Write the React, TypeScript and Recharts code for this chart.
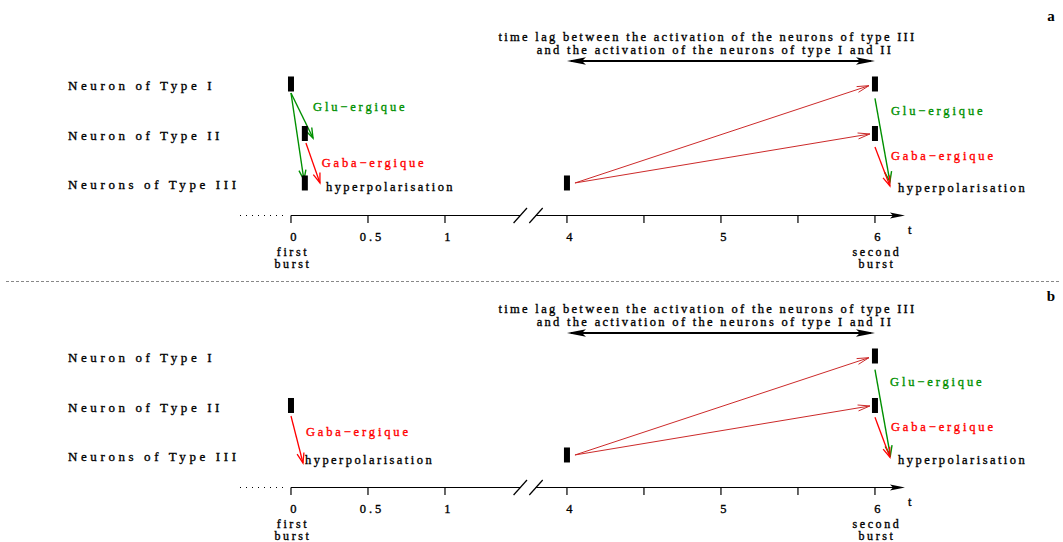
import React from 'react';
import { ComposedChart, XAxis, YAxis, Scatter, ReferenceLine } from 'recharts';

// ---------- axis definition (broken time axis) ----------
const TICK_TIMES = [0, 0.5, 1, 4, 4.5, 5, 5.5, 6];
const TICK_LABELS = ['0', '0.5', '1', '4', '', '5', '', '6'];
const TICK_SUBLABELS: string[][] = [['first', 'burst'], [], [], [], [], [], [], ['second', 'burst']];
const BREAK_SHIFT = 2.208; // time removed by the "//" break between 1 and 4
const pos = (t: number) => (t <= 1 ? t : t - BREAK_SHIFT);
const AXIS_END_T = 6.195;
const BREAK_POS = 1.539;
const DOTS_FROM_POS = -0.331;

// ---------- rows ----------
const ROW_LEVELS = [3, 2, 1];
const ROW_LABELS = ['Neuron of Type I', 'Neuron of Type II', 'Neurons of Type III'];

// ---------- header ----------
const HEADER_LINES = [
  'time lag between the activation of the neurons of type III',
  'and the activation of the neurons of type I and II',
];
const HEADER_AT = [{ t: 4.913, y: 3.956 }, { t: 4.961, y: 3.687 }];
const LAG_SPAN = [{ t: 4, y: 3.465 }, { t: 6, y: 3.465 }];

const GLU = 'Glu\u2212ergique';
const GABA = 'Gaba\u2212ergique';
const HYPER = 'hyperpolarisation';

type P = { t: number; y: number };

// ---------- panel a ----------
const A_BURSTS = [
  { t: 0, y: 3 }, { t: 0.09, y: 2 }, { t: 0.09, y: 1 },
  { t: 4, y: 1 }, { t: 6, y: 3 }, { t: 6, y: 2 },
];
const A_GLU_ARROWS: P[][] = [
  [{ t: 0, y: 2.818 }, { t: 0.143, y: 1.909 }],
  [{ t: 0, y: 2.818 }, { t: 0.084, y: 1.06 }],
  [{ t: 6, y: 2.711 }, { t: 6.097, y: 1.026 }],
];
const A_GABA_ARROWS: P[][] = [
  [{ t: 0.097, y: 1.808 }, { t: 0.188, y: 1.0 }],
  [{ t: 6, y: 1.727 }, { t: 6.097, y: 0.939 }],
];
const A_ACTIVATION_ARROWS: P[][] = [
  [{ t: 4.052, y: 1.0 }, { t: 5.961, y: 2.966 }],
  [{ t: 4.052, y: 1.0 }, { t: 5.967, y: 1.99 }],
];
const A_GLU_TEXT = [{ t: 0.143, y: 2.54 }, { t: 6.104, y: 2.461 }];
const A_GABA_TEXT = [{ t: 0.199, y: 1.398 }, { t: 6.104, y: 1.545 }];
const A_HYPER_TEXT = [{ t: 0.227, y: 0.913 }, { t: 6.15, y: 0.905 }];

// ---------- panel b ----------
const B_BURSTS = [{ t: 0, y: 2 }, { t: 4, y: 1 }, { t: 6, y: 3 }, { t: 6, y: 2 }];
const B_GLU_ARROWS: P[][] = [[{ t: 6, y: 2.723 }, { t: 6.1, y: 0.986 }]];
const B_GABA_ARROWS: P[][] = [
  [{ t: 0, y: 1.788 }, { t: 0.078, y: 0.838 }],
  [{ t: 6, y: 1.762 }, { t: 6.097, y: 0.954 }],
];
const B_ACTIVATION_ARROWS: P[][] = [
  [{ t: 4.052, y: 1.0 }, { t: 5.961, y: 2.966 }],
  [{ t: 4.052, y: 1.0 }, { t: 5.967, y: 1.99 }],
];
const B_GLU_TEXT = [{ t: 6.098, y: 2.469 }];
const B_GABA_TEXT = [{ t: 0.097, y: 1.465 }, { t: 6.104, y: 1.572 }];
const B_HYPER_TEXT = [{ t: 0.091, y: 0.899 }, { t: 6.15, y: 0.905 }];

// ---------- layout / style ----------
const W = 1063;
const H = 270;
const X_DOMAIN: [number, number] = [-0.396, 5.013];
const Y_DOMAIN: [number, number] = [0.343, 4.697];
const SERIF = '"Liberation Serif", "Times New Roman", Times, serif';
const GREEN = '#009000';
const RED = '#ff0000';
const DARK_RED = '#cc2a2a';
const TEXT_STROKE = 0.35;

const TICK_POS = TICK_TIMES.map(pos);

const TimeTick = (props: any) => {
  const { x, y, payload } = props;
  const i = TICK_POS.indexOf(payload.value);
  const label = i >= 0 ? TICK_LABELS[i] : '';
  const subs = i >= 0 ? TICK_SUBLABELS[i] : [];
  return (
    <g>
      <line x1={x} y1={y} x2={x} y2={y + 7.5} stroke="#000" strokeWidth={1.2} />
      {label ? (
        <text x={x + 4} y={y + 21} textAnchor="middle" dominantBaseline="central"
          fontFamily={SERIF} fontSize={12.5} letterSpacing={3} fill="#000"
          stroke="#000" strokeWidth={TEXT_STROKE}>{label}</text>
      ) : null}
      {subs.map((s, k) => (
        <text key={k} x={x + 2} y={y + 36 + k * 12} textAnchor="middle" dominantBaseline="central"
          fontFamily={SERIF} fontSize={12} letterSpacing={2.6} fill="#000"
          stroke="#000" strokeWidth={TEXT_STROKE}>{s}</text>
      ))}
    </g>
  );
};

const RowTick = (props: any) => {
  const { y, payload } = props;
  const i = ROW_LEVELS.indexOf(payload.value);
  return (
    <text x={68} y={y + 2} dominantBaseline="central" textAnchor="start"
      fontFamily={SERIF} fontSize={13} letterSpacing={3.6} fill="#000"
      stroke="#000" strokeWidth={TEXT_STROKE}>
      {i >= 0 ? ROW_LABELS[i] : ''}
    </text>
  );
};

const openArrow = (len: number, half: number) => (p: any) => {
  const { x1, y1, x2, y2, stroke, strokeWidth } = p;
  const a = Math.atan2(y2 - y1, x2 - x1);
  const bx = x2 - len * Math.cos(a);
  const by = y2 - len * Math.sin(a);
  const nx = -Math.sin(a) * half;
  const ny = Math.cos(a) * half;
  return (
    <g>
      <line x1={x1} y1={y1} x2={x2} y2={y2} stroke={stroke} strokeWidth={strokeWidth} />
      <polyline points={`${bx + nx},${by + ny} ${x2},${y2} ${bx - nx},${by - ny}`}
        fill="none" stroke={stroke} strokeWidth={strokeWidth} />
    </g>
  );
};

const doubleArrow = (len: number, half: number) => (p: any) => {
  const { x1, y1, x2, y2, stroke, strokeWidth } = p;
  return (
    <g>
      <line x1={x1 + 4} y1={y1} x2={x2 - 4} y2={y2} stroke={stroke} strokeWidth={strokeWidth} />
      <polygon points={`${x1},${y1} ${x1 + len},${y1 - half} ${x1 + len - 4},${y1} ${x1 + len},${y1 + half}`} fill={stroke} />
      <polygon points={`${x2},${y2} ${x2 - len},${y2 - half} ${x2 - len + 4},${y2} ${x2 - len},${y2 + half}`} fill={stroke} />
    </g>
  );
};

const axisArrow = (p: any) => {
  const { x1, y1, x2, y2, stroke, strokeWidth } = p;
  return (
    <g>
      <line x1={x1} y1={y1} x2={x2 - 4} y2={y2} stroke={stroke} strokeWidth={strokeWidth} />
      <polygon points={`${x2},${y2} ${x2 - 15},${y2 - 3} ${x2 - 12},${y2} ${x2 - 15},${y2 + 3}`} fill={stroke} />
      <text x={x2 + 3} y={y2 + 14} dominantBaseline="central" fontFamily={SERIF} fontSize={12.5} fill="#000"
        stroke="#000" strokeWidth={TEXT_STROKE}>t</text>
    </g>
  );
};

const BurstShape = (p: any) => (
  <rect x={p.cx - 3} y={p.cy - 7.5} width={6} height={15} fill="#000" />
);

const textShape = (color: string, anchor: 'start' | 'middle', spacing: number) => (p: any) => (
  <text x={p.cx} y={p.cy} dominantBaseline="central" textAnchor={anchor} fill={color}
    stroke={color} strokeWidth={TEXT_STROKE}
    fontFamily={SERIF} fontSize={12.5} letterSpacing={spacing}>{p.payload.text}</text>
);

const toXY = (arr: P[], text?: string) => arr.map((d) => ({ x: pos(d.t), y: d.y, text }));

const seg = (a: P[]) => [{ x: pos(a[0].t), y: a[0].y }, { x: pos(a[1].t), y: a[1].y }] as any;

type PanelProps = {
  bursts: P[];
  gluArrows: P[][];
  gabaArrows: P[][];
  activationArrows: P[][];
  gluText: P[];
  gabaText: P[];
  hyperText: P[];
};

const Panel = ({ bursts, gluArrows, gabaArrows, activationArrows, gluText, gabaText, hyperText }: PanelProps) => {
  const axisY = Y_DOMAIN[0];
  const headerData = HEADER_AT.map((d, i) => ({ x: pos(d.t), y: d.y, text: HEADER_LINES[i] }));
  const slashDx = 0.0435;
  const slashDy = 0.152;
  return (
    <ComposedChart width={W} height={H} margin={{ top: 0, right: 0, bottom: 0, left: 0 }}>
      <XAxis type="number" dataKey="x" domain={X_DOMAIN} allowDataOverflow ticks={TICK_POS}
        interval={0} tick={<TimeTick />} tickLine={false} axisLine={false} tickSize={0} tickMargin={0}
        height={H - 215.5} />
      <YAxis type="number" dataKey="y" domain={Y_DOMAIN} allowDataOverflow ticks={ROW_LEVELS}
        interval={0} tick={<RowTick />} tickLine={false} axisLine={false} width={230} />

      {/* time axis */}
      <ReferenceLine segment={[{ x: DOTS_FROM_POS, y: axisY }, { x: -0.03, y: axisY }]} stroke="#000"
        strokeWidth={1} strokeDasharray="1 5" ifOverflow="visible" />
      <ReferenceLine segment={[{ x: 0, y: axisY }, { x: BREAK_POS - 0.05, y: axisY }]} stroke="#000"
        strokeWidth={1.2} ifOverflow="visible" />
      <ReferenceLine segment={[{ x: BREAK_POS + 0.05, y: axisY }, { x: pos(AXIS_END_T), y: axisY }]} stroke="#000"
        strokeWidth={1.2} ifOverflow="visible" shape={axisArrow} />
      {[-0.05, 0.052].map((o, k) => (
        <ReferenceLine key={'br' + k}
          segment={[{ x: BREAK_POS + o - slashDx, y: axisY - slashDy }, { x: BREAK_POS + o + slashDx, y: axisY + slashDy }]}
          stroke="#000" strokeWidth={1.2} ifOverflow="visible" />
      ))}

      {/* time lag */}
      <ReferenceLine segment={[{ x: pos(LAG_SPAN[0].t), y: LAG_SPAN[0].y }, { x: pos(LAG_SPAN[1].t), y: LAG_SPAN[1].y }]}
        stroke="#000" strokeWidth={2} ifOverflow="visible" shape={doubleArrow(19, 3.8)} />

      {activationArrows.map((a, k) => (
        <ReferenceLine key={'act' + k} segment={seg(a)} stroke={DARK_RED} strokeWidth={1}
          ifOverflow="visible" shape={openArrow(12, 3)} />
      ))}
      {gluArrows.map((a, k) => (
        <ReferenceLine key={'glu' + k} segment={seg(a)} stroke={GREEN} strokeWidth={1.4}
          ifOverflow="visible" shape={openArrow(10, 3.5)} />
      ))}
      {gabaArrows.map((a, k) => (
        <ReferenceLine key={'gaba' + k} segment={seg(a)} stroke={RED} strokeWidth={1.3}
          ifOverflow="visible" shape={openArrow(10, 3.5)} />
      ))}

      <Scatter data={bursts.map((d) => ({ x: pos(d.t), y: d.y }))} shape={BurstShape} isAnimationActive={false} />
      <Scatter data={headerData} shape={textShape('#000', 'middle', 2.3)} isAnimationActive={false} />
      <Scatter data={toXY(gluText, GLU)} shape={textShape(GREEN, 'start', 2.85)} isAnimationActive={false} />
      <Scatter data={toXY(gabaText, GABA)} shape={textShape(RED, 'start', 2.85)} isAnimationActive={false} />
      <Scatter data={toXY(hyperText, HYPER)} shape={textShape('#000', 'start', 2.45)} isAnimationActive={false} />
    </ComposedChart>
  );
};

const PANEL_LETTERS = ['a', 'b'];

export default function App() {
  return (
    <div style={{ position: 'absolute', left: 0, top: 0, width: W, height: 542, overflow: 'hidden', background: '#fff' }}>
      <div style={{ position: 'absolute', left: 0, top: 0 }}>
        <Panel bursts={A_BURSTS} gluArrows={A_GLU_ARROWS} gabaArrows={A_GABA_ARROWS}
          activationArrows={A_ACTIVATION_ARROWS} gluText={A_GLU_TEXT} gabaText={A_GABA_TEXT} hyperText={A_HYPER_TEXT} />
      </div>
      <div style={{ position: 'absolute', left: 0, top: 272 }}>
        <Panel bursts={B_BURSTS} gluArrows={B_GLU_ARROWS} gabaArrows={B_GABA_ARROWS}
          activationArrows={B_ACTIVATION_ARROWS} gluText={B_GLU_TEXT} gabaText={B_GABA_TEXT} hyperText={B_HYPER_TEXT} />
      </div>
      <svg style={{ position: 'absolute', left: 0, top: 0 }} width={W} height={542} pointerEvents="none">
        <line x1={6} y1={281.5} x2={1060} y2={281.5} stroke="#888" strokeWidth={1} strokeDasharray="3 2" />
        {PANEL_LETTERS.map((l, i) => (
          <text key={l} x={1051} y={16 + i * 280} textAnchor="middle" dominantBaseline="central"
            fontFamily={SERIF} fontWeight="bold" fontSize={15} fill="#000">{l}</text>
        ))}
      </svg>
    </div>
  );
}
